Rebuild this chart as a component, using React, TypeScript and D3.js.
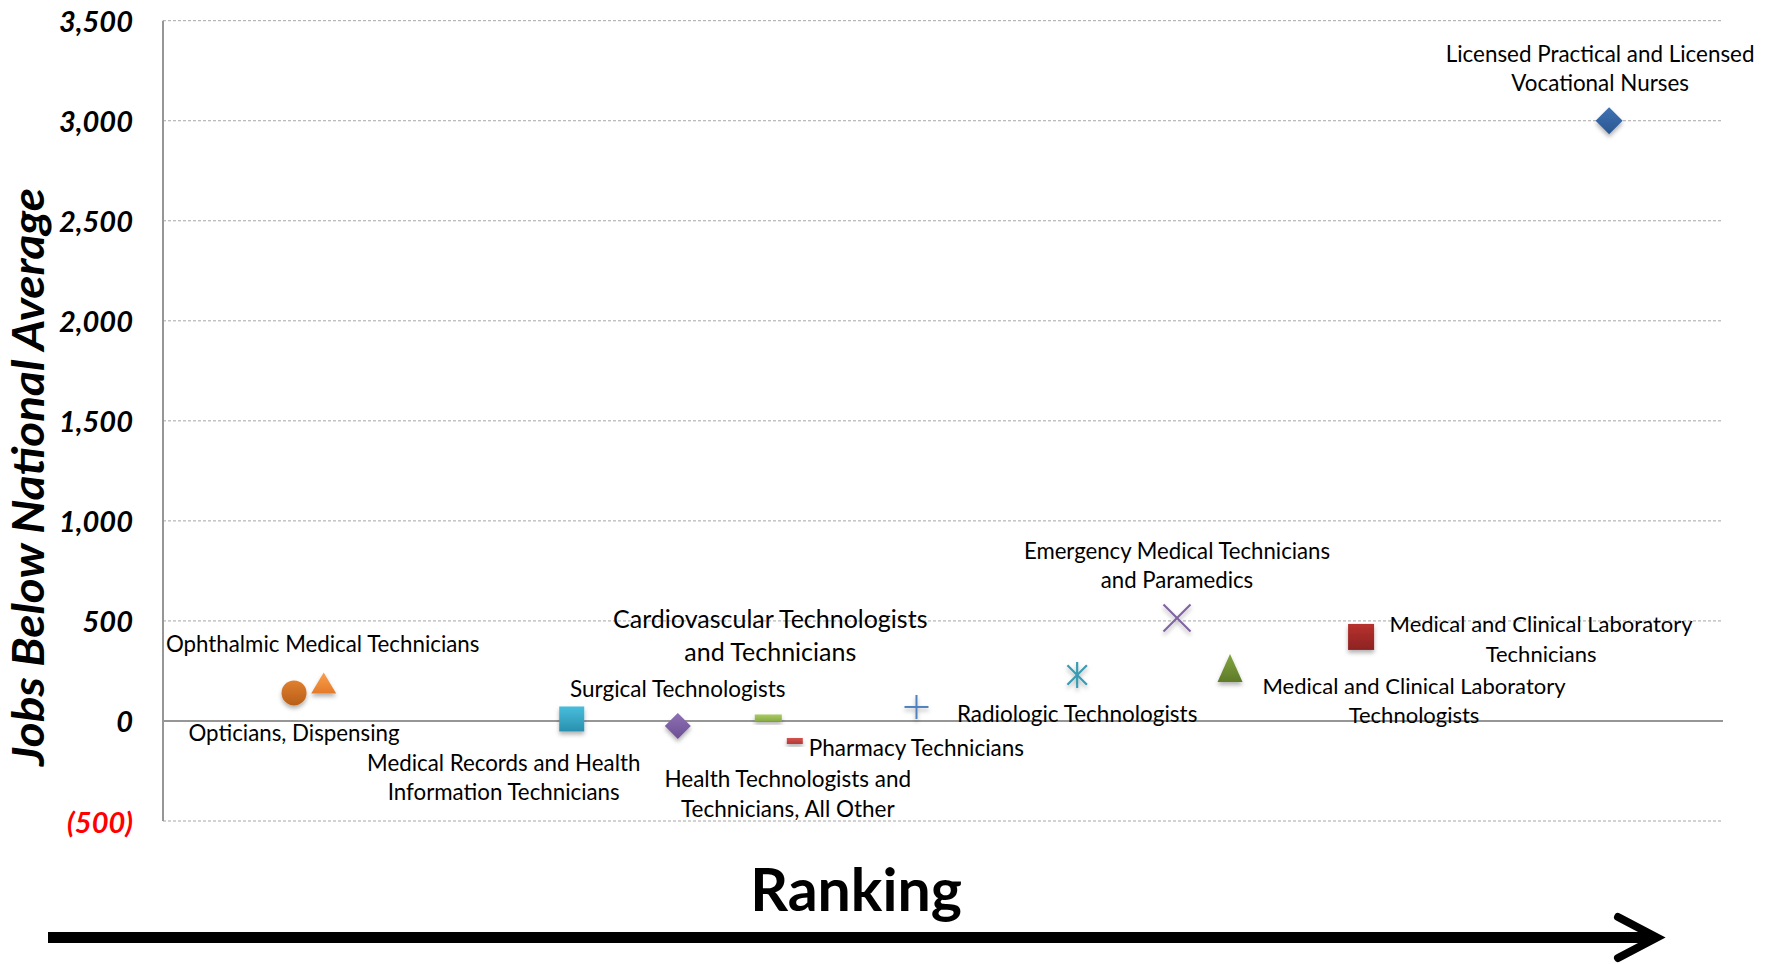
import React from 'react';
import * as d3 from 'd3';

// ---------- data ----------
const occupations = [
  'Opticians, Dispensing',
  'Ophthalmic Medical Technicians',
  'Medical Records and Health Information Technicians',
  'Surgical Technologists',
  'Cardiovascular Technologists and Technicians',
  'Health Technologists and Technicians, All Other',
  'Pharmacy Technicians',
  'Radiologic Technologists',
  'Emergency Medical Technicians and Paramedics',
  'Medical and Clinical Laboratory Technologists',
  'Medical and Clinical Laboratory Technicians',
  'Licensed Practical and Licensed Vocational Nurses',
];
const rankScores = [8.4, 10.3, 26.2, 33.0, 38.8, 40.5, 48.3, 58.6, 65.0, 68.4, 76.8, 92.7];
const jobsBelowAverage = [140, 190, 10, -25, 15, -100, 70, 230, 515, 265, 420, 3000];
const yTickValues = [-500, 0, 500, 1000, 1500, 2000, 2500, 3000, 3500];
const labelLines = [
  ['Opticians, Dispensing'],
  ['Ophthalmic Medical Technicians'],
  ['Medical Records and Health', 'Information Technicians'],
  ['Surgical Technologists'],
  ['Cardiovascular Technologists', 'and Technicians'],
  ['Health Technologists and', 'Technicians, All Other'],
  ['Pharmacy Technicians'],
  ['Radiologic Technologists'],
  ['Emergency Medical Technicians', 'and Paramedics'],
  ['Medical and Clinical Laboratory', 'Technologists'],
  ['Medical and Clinical Laboratory', 'Technicians'],
  ['Licensed Practical and Licensed', 'Vocational Nurses'],
];

// ---------- styles / layout ----------
type Shape = 'circle' | 'triangle' | 'square' | 'diamond' | 'dash' | 'plus' | 'asterisk' | 'x';
const markerShapes: Shape[] = ['circle', 'triangle', 'square', 'diamond', 'dash', 'dash', 'plus', 'asterisk', 'x', 'triangle', 'square', 'diamond'];
const markerColors: [string, string][] = [
  ['#E08030', '#B85E18'],
  ['#F9A050', '#E47A28'],
  ['#48BEDC', '#2990AE'],
  ['#8E70B4', '#6C4F92'],
  ['#A8CB62', '#88AA46'],
  ['#D5534F', '#B03835'],
  ['#4F81BD', '#4F81BD'],
  ['#3A9BB2', '#3A9BB2'],
  ['#8064A2', '#8064A2'],
  ['#82A540', '#5E7B28'],
  ['#B8322E', '#8C2321'],
  ['#3E72B4', '#2B568F'],
];
const markerSizes: [number, number][] = [
  [25, 25], [25, 21], [25, 25], [26, 26], [27, 7], [16, 6], [24, 24], [26, 26], [27, 27], [25, 28], [26, 26], [27, 27],
];
// label offset (dx, dy) from the marker to the first line centre
const labelOffsets: [number, number][] = [
  [0, 39], [-1, -40], [-68, 43], [0, -38], [2, -100], [-7, 37], [0, 40], [0, 38], [0, -68], [184, 17], [180, -14], [-9, -68],
];
const labelFontSizes = [22.3, 22.3, 22.3, 22.5, 25, 22.5, 22.5, 22.5, 22.2, 22, 22, 22.4];
const labelLineHeights = [29, 29, 29, 29, 33, 30, 29, 29, 29, 29, 30, 29];

const W = 1769;
const H = 964;
const plotLeft = 163;
const plotRight = 1723;
const plotTop = 20.7;
const plotBottom = 821;
const FONT = 'Lato, "Open Sans", sans-serif';

function Marker({ shape, x, y, colors, size, id }: { shape: Shape; x: number; y: number; colors: [string, string]; size: [number, number]; id: number }) {
  const [w, h] = size;
  const fill = `url(#grad${id})`;
  const stroke = colors[0];
  let el: React.ReactNode = null;
  if (shape === 'circle') {
    el = <circle cx={0} cy={0} r={w / 2} fill={fill} />;
  } else if (shape === 'triangle') {
    el = <polygon points={`0,${-h / 2} ${w / 2},${h / 2} ${-w / 2},${h / 2}`} fill={fill} />;
  } else if (shape === 'square') {
    el = <rect x={-w / 2} y={-h / 2} width={w} height={h} fill={fill} />;
  } else if (shape === 'diamond') {
    el = <polygon points={`0,${-h / 2} ${w / 2},0 0,${h / 2} ${-w / 2},0`} fill={fill} />;
  } else if (shape === 'dash') {
    el = <rect x={-w / 2} y={-h / 2} width={w} height={h} fill={fill} />;
  } else if (shape === 'plus') {
    el = (
      <g stroke={stroke} strokeWidth={2}>
        <line x1={-w / 2} y1={0} x2={w / 2} y2={0} />
        <line x1={0} y1={-h / 2} x2={0} y2={h / 2} />
      </g>
    );
  } else if (shape === 'asterisk') {
    const a = (w / 2) * 0.75;
    el = (
      <g stroke={stroke} strokeWidth={2.2}>
        <line x1={-a} y1={-a} x2={a} y2={a} />
        <line x1={-a} y1={a} x2={a} y2={-a} />
        <line x1={0} y1={-h / 2} x2={0} y2={h / 2} />
      </g>
    );
  } else if (shape === 'x') {
    el = (
      <g stroke={stroke} strokeWidth={2.2}>
        <line x1={-w / 2} y1={-h / 2} x2={w / 2} y2={h / 2} />
        <line x1={-w / 2} y1={h / 2} x2={w / 2} y2={-h / 2} />
      </g>
    );
  }
  return (
    <g transform={`translate(${x},${y})`} filter="url(#shadow)">
      {el}
    </g>
  );
}

export default function App() {
  const x = d3.scaleLinear().domain([0, 100]).range([plotLeft, plotRight]);
  const y = d3.scaleLinear().domain([-500, 3500]).range([plotBottom, plotTop]);
  const fmt = d3.format(',');
  const tickText = (v: number) => (v < 0 ? `(${fmt(-v)})` : fmt(v));

  return (
    <svg width={W} height={H} style={{ position: 'absolute', left: 0, top: 0, background: '#fff' }}>
      <defs>
        <filter id="shadow" x="-50%" y="-50%" width="200%" height="200%">
          <feDropShadow dx="0" dy="3" stdDeviation="2" floodColor="#000" floodOpacity="0.3" />
        </filter>
        {markerColors.map((c, i) => (
          <linearGradient key={i} id={`grad${i}`} x1="0" y1="0" x2="0" y2="1">
            <stop offset="0%" stopColor={c[0]} />
            <stop offset="100%" stopColor={c[1]} />
          </linearGradient>
        ))}
      </defs>

      {/* gridlines */}
      {yTickValues.filter((v) => v !== 0).map((v) => (
        <line key={v} x1={plotLeft} x2={plotRight} y1={y(v)} y2={y(v)} stroke="#A6A6A6" strokeWidth={1} strokeDasharray="3,2" />
      ))}
      {/* zero line */}
      <line x1={plotLeft} x2={plotRight} y1={y(0)} y2={y(0)} stroke="#969696" strokeWidth={2} />
      {/* y axis line */}
      <line x1={plotLeft} x2={plotLeft} y1={plotTop} y2={plotBottom} stroke="#969696" strokeWidth={2} />

      {/* tick labels */}
      {yTickValues.map((v) => (
        <text
          key={v}
          x={133}
          y={y(v)}
          textAnchor="end"
          dominantBaseline="central"
          fontFamily={FONT}
          fontWeight="bold"
          fontStyle="italic"
          fontSize={29}
          fill={v < 0 ? '#FF0000' : '#000'}
        >
          {tickText(v)}
        </text>
      ))}

      {/* y axis title */}
      <text
        transform={`translate(44,477) rotate(-90)`}
        textAnchor="middle"
        fontFamily={FONT}
        fontWeight="bold"
        fontStyle="italic"
        fontSize={44}
        textLength={578}
        lengthAdjust="spacingAndGlyphs"
        fill="#000"
      >
        Jobs Below National Average
      </text>

      {/* labels */}
      {occupations.map((name, i) => {
        const px = x(rankScores[i]);
        const py = y(jobsBelowAverage[i]);
        const [dx, dy] = labelOffsets[i];
        return (
          <text key={name} fontFamily={FONT} fontSize={labelFontSizes[i]} fill="#000" textAnchor="middle" dominantBaseline="central">
            {labelLines[i].map((ln, j) => (
              <tspan key={j} x={px + dx} y={py + dy + j * labelLineHeights[i]}>
                {ln}
              </tspan>
            ))}
          </text>
        );
      })}

      {/* markers */}
      {occupations.map((name, i) => (
        <Marker
          key={name}
          id={i}
          shape={markerShapes[i]}
          x={x(rankScores[i])}
          y={y(jobsBelowAverage[i])}
          colors={markerColors[i]}
          size={markerSizes[i]}
        />
      ))}

      {/* Ranking */}
      <text x={856} y={911} textAnchor="middle" fontFamily={FONT} fontWeight="bold" fontSize={59} fill="#000">
        Ranking
      </text>
      <line x1={48} x2={1650} y1={937.5} y2={937.5} stroke="#000" strokeWidth={11} />
      <path d="M1618,917 L1657,937.5 L1618,958" fill="none" stroke="#000" strokeWidth={8} strokeLinecap="round" strokeLinejoin="miter" />
    </svg>
  );
}
